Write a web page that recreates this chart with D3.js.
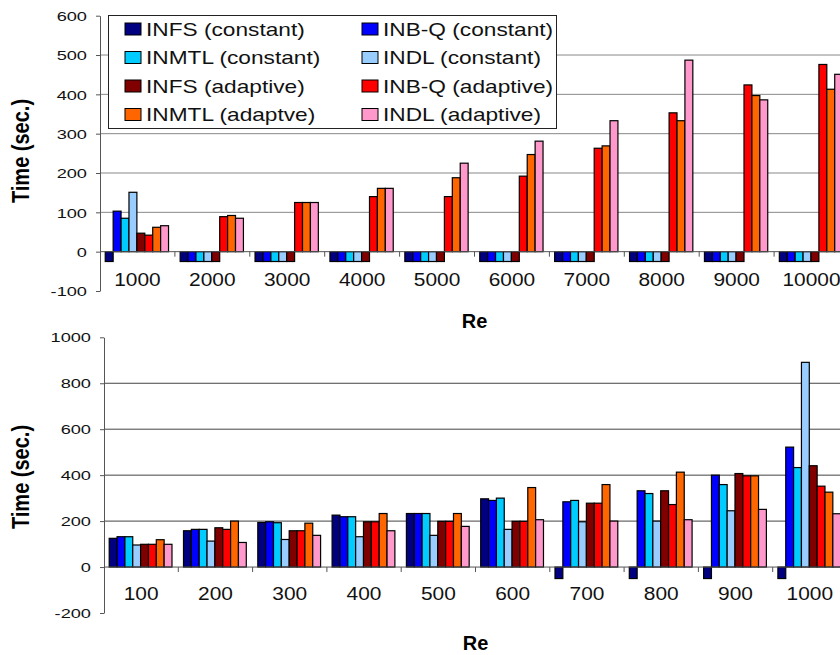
<!DOCTYPE html>
<html>
<head>
<meta charset="utf-8">
<script src="https://cdn.jsdelivr.net/npm/d3@7"></script>
<style>
  body { margin: 0; background: #fff; }
  svg { display: block; font-family: "Liberation Sans", Arial, sans-serif; }
</style>
</head>
<body>
<svg id="chart" width="840" height="655"></svg>
<script>
const seriesNames = ["INFS (constant)", "INB-Q (constant)", "INMTL (constant)", "INDL (constant)",
  "INFS (adaptive)", "INB-Q (adaptive)", "INMTL (adaptve)", "INDL (adaptive)"]
const seriesColors = ["#000080", "#0000ff", "#00ccff", "#99ccff", "#800000", "#ff0000", "#ff6600", "#ff99cc"]

// top panel, Re = 1000 .. 10000
const topRe = ["1000", "2000", "3000", "4000", "5000", "6000", "7000", "8000", "9000", "10000"]
const topTicks = [-100, 0, 100, 200, 300, 400, 500, 600]
const topValues = [
  [-25, -25, -25, -25, -25, -25, -25, -25, -25, -25],
  [103, -25, -25, -25, -25, -25, -25, -25, -25, -25],
  [85, -25, -25, -25, -25, -25, -25, -25, -25, -25],
  [151, -25, -25, -25, -25, -25, -25, -25, -25, -25],
  [47, -25, -25, -25, -25, -25, -25, -25, -25, -25],
  [42, 89, 125, 140, 140, 192, 263, 353, 424, 476],
  [62, 92, 125, 161, 188, 247, 269, 333, 397, 413],
  [66, 85, 125, 161, 225, 281, 333, 487, 386, 451]
]

// bottom panel, Re = 100 .. 1000
const bottomRe = ["100", "200", "300", "400", "500", "600", "700", "800", "900", "1000"]
const bottomTicks = [-200, 0, 200, 400, 600, 800, 1000]
const bottomValues = [
  [125, 158, 194, 226, 233, 297, -50, -50, -50, -50],
  [132, 164, 197, 219, 233, 290, 284, 332, 400, 522],
  [132, 164, 193, 219, 233, 300, 290, 320, 359, 433],
  [96, 113, 120, 132, 138, 164, 197, 200, 245, 891],
  [99, 171, 158, 197, 199, 199, 278, 332, 407, 441],
  [99, 164, 158, 197, 199, 199, 278, 272, 397, 352],
  [119, 200, 191, 233, 233, 346, 359, 413, 397, 326],
  [99, 107, 138, 158, 177, 206, 200, 206, 251, 232]
]

const svg = d3.select("#chart")

const drawPanel = ({ categories, values, ticks, left, right, top, bottom, gridColor, labelY, reY, titleY }) => {
  const g = svg.append("g")

  const x0 = d3.scaleBand().domain(categories).range([left, right])
  const x1 = d3.scaleBand()
    .domain(d3.range(seriesNames.length))
    .range([x0.bandwidth() * 0.07, x0.bandwidth() * 0.915])

  const y = d3.scaleLinear()
    .domain(d3.extent(ticks))
    .range([bottom, top])

  // gridlines (none on the top value)
  g.append("g")
    .selectAll("line")
    .data(ticks.filter(t => t > 0 && t < d3.max(ticks)))
    .join("line")
      .attr("x1", left).attr("x2", right)
      .attr("y1", d => y(d)).attr("y2", d => y(d))
      .attr("stroke", gridColor)
      .attr("stroke-width", 1)

  // y axis
  const yAxis = g.append("g")
    .attr("transform", `translate(${left},0)`)
    .call(d3.axisLeft(y).tickValues(ticks).tickSize(4).tickSizeOuter(0).tickFormat(d => d < 0 ? `-${-d}` : d))
  yAxis.select(".domain").attr("stroke", "#555")
  yAxis.selectAll(".tick line").attr("stroke", "#555")
  yAxis.selectAll(".tick text")
    .attr("font-family", "Liberation Sans, Arial, sans-serif")
    .attr("font-size", 13)
    .attr("fill", "#111")
    .attr("x", -9.3)
    .attr("dy", "0.36em")
    .attr("transform", "scale(1.4,1)")

  // bars
  const rows = categories.map((c, i) => ({ c, vals: values.map(s => s[i]) }))
  g.append("g")
    .selectAll("g")
    .data(rows)
    .join("g")
      .attr("transform", d => `translate(${x0(d.c)},0)`)
    .selectAll("rect")
    .data(d => d.vals.map((v, k) => ({ v, k })))
    .join("rect")
      .attr("x", d => x1(d.k))
      .attr("width", x1.bandwidth())
      .attr("y", d => Math.min(y(d.v), y(0)))
      .attr("height", d => Math.abs(y(d.v) - y(0)))
      .attr("fill", d => seriesColors[d.k])
      .attr("stroke", "#000")
      .attr("stroke-width", 1.2)

  // category axis at zero
  const xg = g.append("g")
  xg.append("line")
    .attr("x1", left).attr("x2", right)
    .attr("y1", y(0)).attr("y2", y(0))
    .attr("stroke", "#555")
  xg.selectAll("line.tick")
    .data(categories.slice(1))
    .join("line")
      .attr("class", "tick")
      .attr("x1", d => x0(d)).attr("x2", d => x0(d))
      .attr("y1", y(0)).attr("y2", y(0) + 5)
      .attr("stroke", "#555")
  xg.selectAll("text")
    .data(categories)
    .join("text")
      .attr("text-anchor", "middle")
      .attr("font-size", 19)
      .attr("fill", "#111")
      .attr("transform", d => `translate(${x0(d) + x0.bandwidth() / 2},${labelY}) scale(1.1,1)`)
      .text(d => d)

  // axis titles
  g.append("text")
    .attr("text-anchor", "middle")
    .attr("font-weight", "bold")
    .attr("font-size", 20)
    .attr("transform", `translate(${(left + right) / 2},${reY})`)
    .text("Re")

  g.append("text")
    .attr("text-anchor", "middle")
    .attr("font-weight", "bold")
    .attr("font-size", 20)
    .attr("transform", `translate(29,${titleY}) scale(1.2,1) rotate(-90)`)
    .text("Time (sec.)")
}

drawPanel({
  categories: topRe, values: topValues, ticks: topTicks,
  left: 100, right: 849, top: 15.7, bottom: 291,
  gridColor: "#888", labelY: 286, reY: 328, titleY: 151
})

drawPanel({
  categories: bottomRe, values: bottomValues, ticks: bottomTicks,
  left: 104, right: 847, top: 337.3, bottom: 613,
  gridColor: "#444", labelY: 600, reY: 650, titleY: 477
})

// legend over the top panel
const legend = svg.append("g")
legend.append("rect")
  .attr("x", 108.5).attr("y", 15.5)
  .attr("width", 448).attr("height", 113)
  .attr("fill", "#fff")
  .attr("stroke", "#222")

const legendItems = legend.selectAll("g.item")
  .data(seriesNames.map((name, i) => ({ name, i })))
  .join("g")
    .attr("class", "item")
    .attr("transform", d => `translate(${d.i % 2 === 0 ? 125 : 362},${29 + Math.floor(d.i / 2) * 28.5})`)

legendItems.append("rect")
  .attr("x", 0).attr("y", -6)
  .attr("width", 16).attr("height", 12)
  .attr("fill", d => seriesColors[d.i])
  .attr("stroke", "#000")

legendItems.append("text")
  .attr("font-size", 18)
  .attr("fill", "#111")
  .attr("transform", "translate(21,6.5) scale(1.26,1)")
  .text(d => d.name)
</script>
</body>
</html>
